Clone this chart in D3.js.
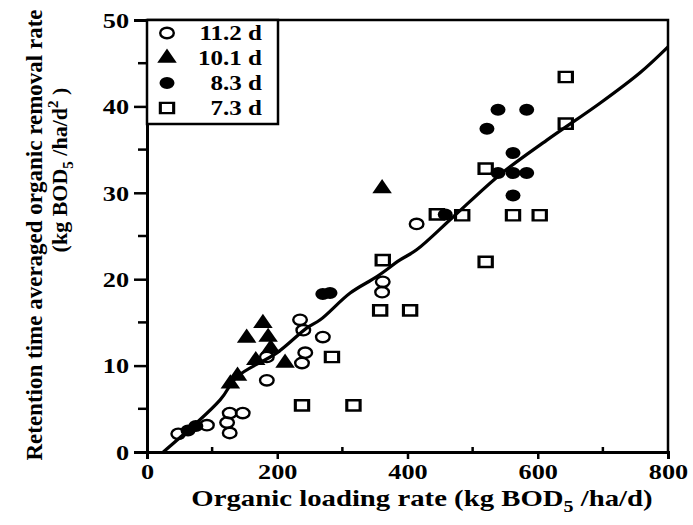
<!DOCTYPE html>
<html><head><meta charset="utf-8">
<script src="https://cdn.jsdelivr.net/npm/d3@7"></script>
<style>
body{margin:0;background:#fff}
svg{display:block}
text{font-family:"Liberation Serif","Times New Roman",serif;font-weight:bold;fill:#000}
</style>
</head><body><svg id="c" width="693" height="525"></svg>
<script>
// ---- data ----
const xTicks = [0, 200, 400, 600, 800];
const yTicks = [0, 10, 20, 30, 40, 50];
const seriesNames = ["11.2 d", "10.1 d", "8.3 d", "7.3 d"];

// 11.2 d (open circles)
const circX = [48, 92, 123, 127, 147, 127, 184, 184, 238, 243, 240, 235, 270, 361, 362, 414];
const circY = [2.1, 3.1, 3.4, 4.5, 4.5, 2.2, 8.3, 11.0, 10.3, 11.5, 14.1, 15.3, 13.3, 18.5, 19.7, 26.4];
// 10.1 d (filled triangles)
const triX = [128, 139, 153, 167, 178, 186, 190, 212, 361];
const triY = [7.9, 8.8, 13.2, 10.6, 14.9, 13.3, 12.0, 10.3, 30.5];
// 8.3 d (filled circles)
const dotX = [63, 75, 270, 281, 458, 522, 539, 583, 562, 539, 562, 583, 562];
const dotY = [2.5, 3.0, 18.3, 18.4, 27.5, 37.4, 39.6, 39.6, 34.6, 32.3, 32.3, 32.3, 29.7];
// 7.3 d (open squares)
const sqX = [238, 317, 284, 358, 404, 362, 445, 484, 520, 520, 562, 603, 643, 643];
const sqY = [5.4, 5.4, 11.0, 16.4, 16.4, 22.2, 27.5, 27.4, 32.8, 22.0, 27.4, 27.4, 38.0, 43.4];

// hand-drawn regression line (traced points)
const lineX = [25, 112, 138, 200, 246, 266, 312, 353, 388, 414, 470, 542, 614, 696, 757, 800];
const lineY = [0, 6.0, 8.7, 11.5, 14.4, 15.3, 18.4, 20.3, 22.2, 23.4, 27.2, 32.1, 36.1, 40.4, 43.9, 46.9];

// ---- chart ----
const svg = d3.select("#c");
const x = d3.scaleLinear().domain([0, 800]).range([147, 668]);
const y = d3.scaleLinear().domain([0, 50]).range([452, 20]);
const STRETCH = 1.25;

function stretch(sel) {
  sel.each(function () {
    const w = this.getComputedTextLength();
    d3.select(this).attr("textLength", w * STRETCH).attr("lengthAdjust", "spacingAndGlyphs");
  });
}

// frame (top & right)
svg.append("path")
  .attr("d", `M${x(0)},${y(50)}H${x(800)}V${y(0)}`)
  .attr("fill", "none").attr("stroke", "#000").attr("stroke-width", 2.5);

// y axis
const yAx = svg.append("g").attr("transform", `translate(${x(0)},0)`)
  .call(d3.axisLeft(y).tickValues(yTicks).tickSize(13).tickPadding(5).tickFormat(d3.format("d")));
yAx.select(".domain").attr("stroke-width", 3);
yAx.selectAll(".tick line").attr("stroke-width", 2.5);
yAx.selectAll("text").style("font-size", "21px").attr("dy", "0.35em").call(stretch);
// y minor ticks
svg.append("g").selectAll("line").data([5, 15, 25, 35, 45]).join("line")
  .attr("x1", x(0) - 9).attr("x2", x(0)).attr("y1", d => y(d)).attr("y2", d => y(d))
  .attr("stroke", "#000").attr("stroke-width", 2.5);

// x axis
const xAx = svg.append("g").attr("transform", `translate(0,${y(0)})`)
  .call(d3.axisBottom(x).tickValues(xTicks).tickSize(7).tickPadding(3).tickFormat(d3.format("d")));
xAx.select(".domain").attr("stroke-width", 3);
xAx.selectAll(".tick line").attr("stroke-width", 2.5);
xAx.selectAll("text").style("font-size", "21px").attr("dy", "0.8em").call(stretch);
svg.append("g").selectAll("line").data([100, 300, 500, 700]).join("line")
  .attr("x1", d => x(d)).attr("x2", d => x(d)).attr("y1", y(0) - 5).attr("y2", y(0))
  .attr("stroke", "#000").attr("stroke-width", 2.5);

// x title
const xt = svg.append("text").attr("x", 422).attr("y", 506).attr("text-anchor", "middle")
  .style("font-size", "23px");
xt.append("tspan").text("Organic loading rate (kg BOD");
xt.append("tspan").attr("dy", 6).style("font-size", "16px").text("5");
xt.append("tspan").attr("dy", -6).text(" /ha/d)");
xt.call(stretch);

// y title
svg.append("text").attr("transform", "translate(42,235) rotate(-90)")
  .attr("text-anchor", "middle").style("font-size", "23px")
  .text("Retention time averaged organic removal rate");
const yt2 = svg.append("text").attr("transform", "translate(67,170) rotate(-90)")
  .attr("text-anchor", "middle").style("font-size", "22px");
yt2.append("tspan").text("(kg BOD");
yt2.append("tspan").attr("dy", 6).style("font-size", "15px").text("5");
yt2.append("tspan").attr("dy", -6).text(" /ha/d");
yt2.append("tspan").attr("dy", -9).style("font-size", "15px").text("2");
yt2.append("tspan").attr("dy", 9).text(" )");

// regression line
const line = d3.line().x(d => x(d[0])).y(d => y(d[1])).curve(d3.curveCatmullRom);
svg.append("path").datum(d3.zip(lineX, lineY)).attr("d", line)
  .attr("fill", "none").attr("stroke", "#000").attr("stroke-width", 3.2);

// markers
function drawOpenCircle(g, cx, cy) {
  g.append("ellipse").attr("cx", cx).attr("cy", cy).attr("rx", 6.8).attr("ry", 5.2)
    .attr("fill", "none").attr("stroke", "#000").attr("stroke-width", 2.4);
}
function drawDot(g, cx, cy) {
  g.append("ellipse").attr("cx", cx).attr("cy", cy).attr("rx", 7.5).attr("ry", 6).attr("fill", "#000");
}
const triPath = d3.symbol(d3.symbolTriangle, 115)();
function drawTri(g, cx, cy) {
  g.append("path").attr("d", triPath).attr("transform", `translate(${cx},${cy}) scale(1.2,1)`).attr("fill", "#000");
}
const sqPath = d3.symbol(d3.symbolSquare, 105)();
function drawSq(g, cx, cy) {
  g.append("path").attr("d", sqPath).attr("transform", `translate(${cx},${cy}) scale(1.3,1)`)
    .attr("fill", "none").attr("stroke", "#000").attr("stroke-width", 2.4);
}
const mg = svg.append("g");
circX.forEach((v, i) => drawOpenCircle(mg, x(v), y(circY[i])));
triX.forEach((v, i) => drawTri(mg, x(v), y(triY[i])));
dotX.forEach((v, i) => drawDot(mg, x(v), y(dotY[i])));
sqX.forEach((v, i) => drawSq(mg, x(v), y(sqY[i])));

// legend
const lg = svg.append("g");
lg.append("rect").attr("x", x(0)).attr("y", y(50)).attr("width", 131).attr("height", 104)
  .attr("fill", "#fff").attr("stroke", "#000").attr("stroke-width", 2.5);
const drawers = [drawOpenCircle, drawTri, drawDot, drawSq];
seriesNames.forEach((name, i) => {
  const cy = y(50) + 13 + i * 25;
  drawers[i](lg, 167, cy);
  lg.append("text").attr("x", 262).attr("y", cy).attr("dy", "0.35em").attr("text-anchor", "end")
    .style("font-size", "20px").text(name).call(stretch);
});
</script>
</body></html>
